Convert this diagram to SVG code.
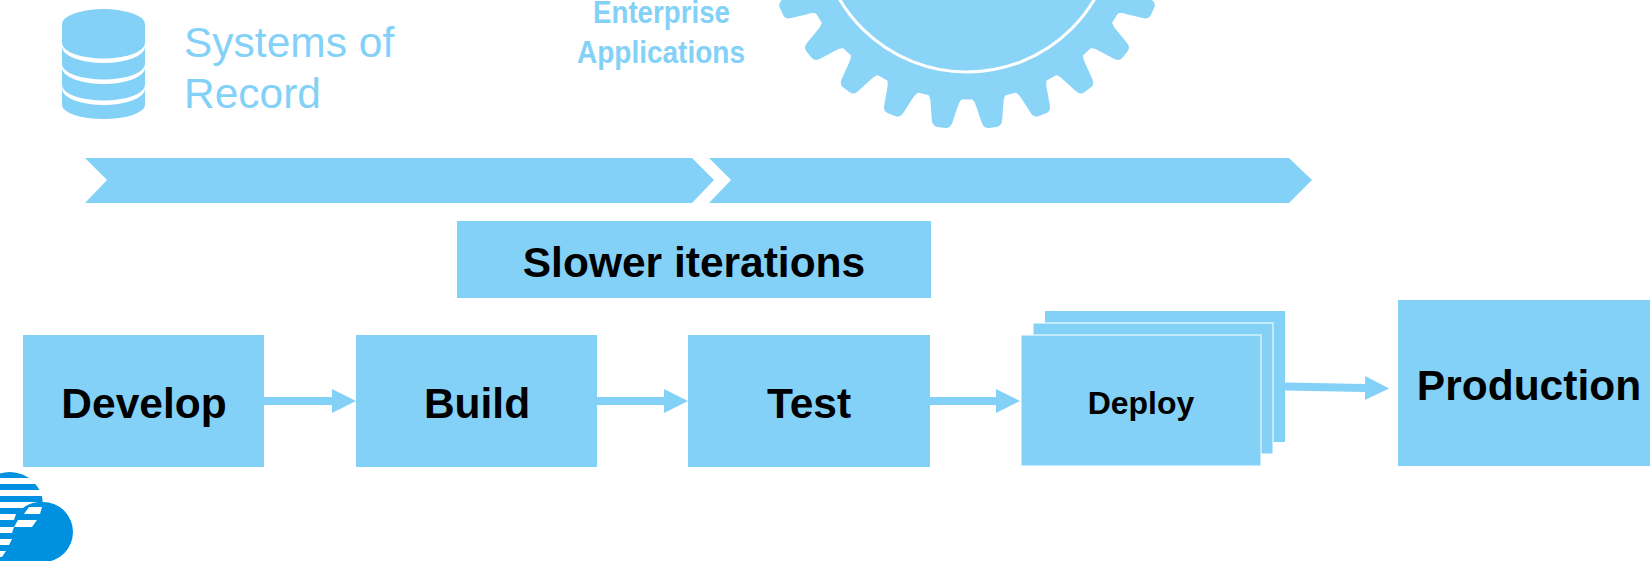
<svg xmlns="http://www.w3.org/2000/svg" width="1650" height="561" viewBox="0 0 1650 561">
<style>
.b{fill:#84d1f8}
.g{fill:#8ad4f7}
.w{fill:#fff}
.d{fill:#0090e0}
text{font-family:"Liberation Sans",Arial,sans-serif}
.l{font-weight:700;fill:#000;text-anchor:middle;font-size:42.5px}
.c{stroke:#84d1f8;stroke-width:8;fill:none;marker-end:url(#ah)}
.sor{font-size:42.5px;fill:#84d1f8}
.ea{font-weight:700;font-size:32px;fill:#84d1f8;text-anchor:middle}
</style>
<defs>
<marker id="ah" markerUnits="userSpaceOnUse" markerWidth="24" markerHeight="24" refX="0" refY="12" orient="auto"><path d="M0 0L24 12L0 24Z" fill="#84d1f8"/></marker>
<path id="tooth" class="g" d="M-22 170Q-14.500 174-13.500 183L-10.500 198Q-9.500 205-4 205L4 205Q9.500 205 10.500 198L13.500 183Q14.500 174 22 170Z"/>
<path id="crescent" class="w" d="M62 43A41.500 15.500 0 0 0 145 43V47A41.500 16 0 0 1 62 47Z"/>
</defs>
<g id="systems-of-record">
<path class="b" d="M62 24A41.500 15 0 0 1 145 24V105A41.500 14 0 0 1 62 105Z"/>
<use href="#crescent"/>
<use href="#crescent" y="21"/>
<use href="#crescent" y="42"/>
<text class="sor" x="184" y="57">Systems of</text>
<text class="sor" x="184" y="108">Record</text>
</g>
<g id="enterprise-applications">
<text class="ea" x="661.500" y="23" textLength="137" lengthAdjust="spacingAndGlyphs">Enterprise</text>
<text class="ea" x="661" y="63" textLength="168" lengthAdjust="spacingAndGlyphs">Applications</text>
</g>
<g id="gear">
<circle class="g" cx="967" cy="-76" r="175.500"/>
<use href="#tooth" transform="translate(967 -76) rotate(7.2)"/>
<use href="#tooth" transform="translate(967 -76) rotate(-7.2)"/>
<use href="#tooth" transform="translate(967 -76) rotate(21.6)"/>
<use href="#tooth" transform="translate(967 -76) rotate(-21.6)"/>
<use href="#tooth" transform="translate(967 -76) rotate(36)"/>
<use href="#tooth" transform="translate(967 -76) rotate(-36)"/>
<use href="#tooth" transform="translate(967 -76) rotate(50.4)"/>
<use href="#tooth" transform="translate(967 -76) rotate(-50.4)"/>
<use href="#tooth" transform="translate(967 -76) rotate(64.8)"/>
<use href="#tooth" transform="translate(967 -76) rotate(-64.8)"/>
<circle cx="967" cy="-76" r="148" fill="none" stroke="#fff" stroke-width="3"/>
</g>
<g id="phase-arrows">
<path class="b" d="M85 158H692L714 180L692 203H85L107 180Z"/>
<path class="b" d="M709 158H1289L1312 180L1289 203H709L731 180Z"/>
</g>
<g id="slower-iterations">
<rect class="b" x="457" y="221" width="474" height="77"/>
<text class="l" x="694" y="277">Slower iterations</text>
</g>
<g id="connectors">
<path class="c" d="M264 401H332"/>
<path class="c" d="M597 401H664"/>
<path class="c" d="M930 401H996"/>
<path class="c" d="M1285 386.500L1365 388"/>
</g>
<g id="develop"><rect class="b" x="23" y="335" width="241" height="132"/><text class="l" x="144" y="418">Develop</text></g>
<g id="build"><rect class="b" x="356" y="335" width="241" height="132"/><text class="l" x="477" y="418">Build</text></g>
<g id="test"><rect class="b" x="688" y="335" width="242" height="132"/><text class="l" x="809" y="418">Test</text></g>
<g id="deploy">
<rect class="b" x="1045" y="311" width="240" height="131"/>
<rect class="b" x="1033" y="323" width="240" height="131" stroke="#fff"/>
<rect class="b" x="1021" y="335" width="240" height="131" stroke="#fff"/>
<text class="l" x="1141" y="414" style="font-size:32px">Deploy</text>
</g>
<g id="production"><rect class="b" x="1398" y="300" width="252" height="166"/><text class="l" x="1529" y="400">Production</text></g>
<g id="logo">
<circle class="d" cx="10" cy="505" r="33"/>
<circle class="d" cx="43" cy="532" r="30"/>
<rect class="d" x="0" y="505" width="43" height="56"/>
<path class="w" d="M0 478H44V484H0ZM0 490H44V496H0ZM0 502H38Q29 503 23 508H0ZM0 514H16L14 520H0ZM0 527H14L12 533H0ZM0 539H12L9 545H0ZM0 551H6L2 557H0Z"/>
<path class="w" d="M29 507H42L40 514H24ZM18 520H37L32 527H14Z"/>
</g>
</svg>
